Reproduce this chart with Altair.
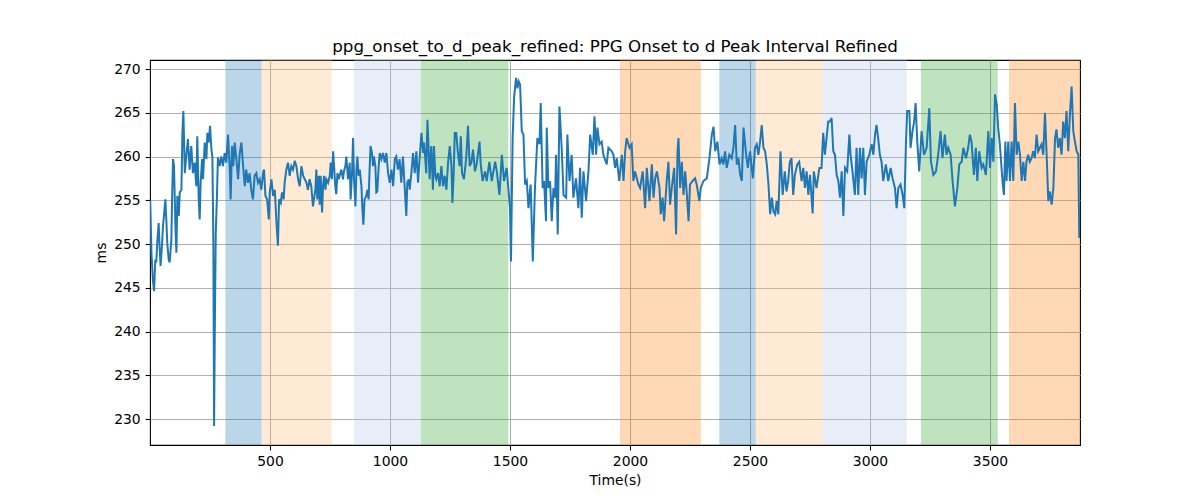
import altair as alt
import pandas as pd

# (time in s, interval in ms), in four stretches
seg_a = [
    (1, 255.0), (6, 249.0), (12, 245.9), (17, 244.6), (22, 248.2), (26, 247.9), (31, 250.5),
    (36, 252.4), (40, 249.8), (44, 247.5), (50, 249.8), (54, 252.0), (58, 253.2), (64, 255.1),
    (68, 252.8), (72, 250.1), (78, 248.2), (82, 247.9), (89, 250.5), (92, 255.1), (96, 259.7),
    (100, 258.9), (106, 252.0), (110, 249.0), (114, 255.5), (120, 253.2), (124, 255.9),
    (131, 256.2), (135, 262.7), (139, 265.2), (145, 258.1), (151, 260.0), (158, 262.0),
    (165, 258.5), (172, 261.2), (179, 258.1), (186, 259.3), (193, 256.6), (197, 262.3),
    (203, 255.1), (207, 252.8), (211, 257.0), (217, 259.7), (221, 257.4), (228, 261.6),
    (235, 259.7), (239, 262.7), (245, 261.6), (250, 263.5), (256, 260.8), (260, 260.0),
    (264, 250.0), (267, 229.2), (270, 240.0), (274, 251.3), (279, 255.5), (283, 259.9),
    (290, 258.9), (297, 260.0), (304, 258.9), (311, 260.4), (318, 259.3), (325, 262.5),
    (332, 258.9), (336, 255.1), (342, 261.2), (347, 258.9), (353, 261.6), (360, 259.7),
    (367, 257.4), (374, 260.4), (381, 261.6), (388, 258.9), (395, 256.6), (401, 258.5),
    (408, 257.0), (415, 258.1), (422, 256.2), (429, 255.1), (436, 257.8), (443, 258.1),
    (450, 257.0), (457, 257.4), (464, 256.2), (471, 258.1), (475, 258.5), (481, 255.5),
    (488, 255.1), (495, 252.8), (499, 255.9), (506, 257.4), (513, 255.5), (520, 256.2),
    (527, 252.4), (533, 249.8), (538, 255.1), (545, 254.7), (550, 255.9), (557, 255.1),
    (561, 257.0), (568, 258.5), (575, 259.3), (582, 257.8), (589, 258.9), (596, 258.5),
    (603, 259.5), (610, 258.9), (617, 257.4), (624, 256.6), (631, 258.9), (638, 257.8),
    (645, 257.4), (652, 257.0), (658, 256.2), (665, 257.4), (672, 256.6), (679, 254.3),
]
seg_b = [
    (689, 256.2), (693, 258.5), (697, 255.1), (703, 257.8), (707, 254.5), (711, 257.8),
    (717, 253.6), (721, 256.6), (725, 257.8), (731, 256.2), (735, 257.4), (742, 257.0),
    (749, 257.8), (753, 259.3), (758, 257.4), (763, 260.6), (767, 258.9), (772, 256.6),
    (776, 255.7), (781, 258.1), (786, 257.4), (797, 258.5), (804, 257.4), (808, 258.3),
    (814, 258.9), (818, 260.0), (825, 257.4), (832, 259.3), (836, 255.1), (842, 258.3),
    (846, 262.1), (850, 257.4), (856, 254.3), (860, 258.5), (864, 260.0), (869, 257.8),
    (874, 258.5), (881, 256.6), (885, 254.0), (889, 252.2), (894, 255.1), (901, 255.5),
    (906, 256.2), (911, 255.1), (915, 258.5), (919, 261.2), (925, 260.4), (929, 258.9),
    (933, 260.0), (939, 258.9), (943, 255.9), (947, 256.0), (953, 258.9), (957, 260.4),
    (964, 259.7), (971, 260.4), (978, 259.3), (985, 260.4), (992, 258.1), (999, 257.0),
    (1006, 258.5), (1013, 256.6), (1020, 259.7), (1026, 260.0), (1033, 258.5), (1040, 259.7),
    (1047, 257.0), (1054, 260.0), (1061, 256.6), (1068, 253.2), (1072, 257.0), (1078, 257.4),
    (1082, 256.2), (1089, 258.1), (1096, 260.4), (1103, 258.1), (1110, 260.6), (1117, 257.0),
    (1124, 260.0), (1131, 262.7), (1138, 260.4), (1142, 261.6), (1147, 259.7), (1151, 258.1),
    (1156, 264.2), (1161, 260.8), (1165, 257.4), (1172, 261.2), (1179, 256.2), (1183, 261.2),
    (1189, 257.8), (1193, 257.4), (1200, 258.1), (1207, 256.6), (1214, 258.9), (1221, 256.6),
    (1228, 257.8), (1235, 256.2), (1242, 259.3), (1249, 261.2), (1256, 258.9), (1260, 254.7),
    (1265, 257.8), (1270, 262.7), (1276, 262.7), (1283, 260.4), (1290, 258.9), (1295, 262.3),
    (1300, 258.1), (1308, 257.4), (1314, 258.9), (1318, 260.0), (1325, 263.5), (1332, 258.9),
    (1339, 259.3), (1346, 260.8),
]
seg_c = [
    (1354, 258.3), (1361, 259.1), (1373, 261.7), (1378, 259.1), (1386, 257.2), (1396, 258.3),
    (1403, 257.2), (1414, 259.4), (1424, 257.2), (1431, 258.3), (1438, 259.4), (1445, 258.3),
    (1456, 255.6), (1466, 260.2), (1475, 257.2), (1486, 258.7), (1493, 256.4), (1500, 254.1),
    (1504, 248.0), (1511, 262.1), (1517, 266.7), (1525, 269.0), (1531, 267.8), (1536, 268.6),
    (1542, 268.2), (1549, 262.9), (1556, 262.5), (1563, 256.8), (1570, 257.2), (1577, 254.1),
    (1586, 256.8), (1595, 248.0), (1604, 256.4), (1614, 262.1), (1623, 261.4), (1628, 266.1),
    (1636, 256.4), (1642, 257.2), (1650, 252.6), (1653, 263.3), (1660, 256.4), (1667, 257.2),
    (1674, 252.6), (1681, 256.4), (1688, 255.3), (1692, 260.2), (1699, 251.1), (1706, 265.7),
    (1716, 260.6), (1723, 255.6), (1734, 255.3), (1739, 262.5), (1748, 257.2), (1757, 260.2),
    (1764, 255.3), (1775, 257.5), (1785, 254.1), (1792, 258.7), (1799, 253.0), (1806, 258.3),
    (1817, 254.9), (1827, 258.3), (1834, 262.5), (1845, 260.2), (1852, 264.6), (1859, 260.2),
    (1864, 263.3), (1873, 261.4), (1882, 261.7), (1889, 260.2), (1903, 259.1), (1910, 261.0),
    (1924, 260.6), (1931, 260.2), (1938, 258.7), (1945, 259.8), (1955, 257.2), (1966, 260.2),
    (1973, 257.2), (1980, 260.6), (1986, 262.1), (1998, 261.0), (2007, 261.4), (2014, 257.2),
    (2021, 258.3), (2035, 256.8), (2042, 256.4), (2053, 258.3), (2063, 254.1), (2070, 258.7),
    (2081, 254.9), (2091, 259.1), (2098, 255.3), (2105, 257.5), (2112, 258.3), (2123, 256.4),
    (2128, 253.4), (2136, 255.3), (2142, 252.6), (2153, 257.2), (2160, 259.4), (2167, 254.5),
    (2174, 256.4), (2184, 258.7), (2192, 251.1), (2198, 260.6), (2202, 262.1), (2209, 256.4),
    (2216, 259.4), (2223, 255.6), (2230, 258.3), (2237, 255.6), (2244, 252.6), (2250, 256.8),
    (2261, 257.2), (2271, 257.5), (2278, 256.8), (2289, 254.9), (2295, 256.4), (2306, 257.2),
    (2320, 257.5), (2331, 259.8), (2341, 262.5), (2348, 263.4), (2355, 260.6), (2364, 261.7),
    (2373, 259.1), (2382, 259.8), (2389, 259.1), (2396, 260.6), (2403, 258.7), (2414, 260.2),
    (2424, 259.8), (2431, 261.0), (2438, 263.6), (2445, 259.1), (2452, 259.8), (2459, 257.9),
    (2466, 257.2), (2473, 263.3), (2484, 260.2), (2491, 258.7), (2500, 260.6), (2512, 257.5),
    (2521, 261.0), (2528, 261.4), (2535, 260.2), (2542, 261.7), (2549, 263.6), (2556, 261.0),
    (2563, 260.6), (2570, 259.1), (2577, 256.8), (2584, 253.4), (2591, 255.3), (2598, 253.7),
    (2605, 253.4), (2611, 254.9), (2618, 253.4),
]
seg_d = [
    (2627, 260.6), (2636, 255.6), (2645, 258.3), (2652, 256.0), (2659, 257.2), (2666, 259.4),
    (2673, 259.8), (2680, 255.6), (2687, 257.9), (2697, 259.1), (2705, 259.4), (2715, 257.2),
    (2722, 258.7), (2729, 256.4), (2736, 258.3), (2743, 255.6), (2750, 257.9), (2761, 253.5),
    (2766, 258.3), (2777, 256.4), (2789, 258.7), (2798, 258.7), (2805, 262.7), (2812, 260.2),
    (2819, 262.1), (2826, 264.0), (2833, 264.0), (2840, 264.4), (2847, 260.6), (2854, 260.2),
    (2861, 257.9), (2868, 257.2), (2875, 255.3), (2882, 258.3), (2889, 253.2), (2896, 258.7),
    (2905, 258.3), (2914, 262.5), (2919, 260.2), (2927, 258.3), (2937, 255.6), (2944, 261.0),
    (2951, 255.6), (2958, 261.0), (2965, 257.5), (2972, 261.0), (2979, 255.6), (2986, 259.4),
    (2997, 260.2), (3007, 261.4), (3014, 260.2), (3021, 262.5), (3027, 263.6), (3034, 262.1),
    (3041, 260.2), (3048, 259.4), (3055, 257.2), (3066, 259.1), (3076, 257.2), (3086, 258.7),
    (3094, 257.5), (3104, 256.4), (3111, 254.1), (3118, 256.4), (3127, 256.8), (3136, 255.6),
    (3143, 254.1), (3150, 261.7), (3155, 265.2), (3164, 265.2), (3169, 261.0), (3177, 262.9),
    (3184, 264.0), (3190, 266.1), (3197, 261.7), (3205, 258.3), (3215, 262.9), (3225, 260.2),
    (3236, 261.0), (3247, 265.5), (3254, 259.4), (3264, 257.9), (3275, 258.3), (3284, 260.2),
    (3294, 262.9), (3302, 259.8), (3312, 262.5), (3319, 260.2), (3326, 261.0), (3336, 260.2),
    (3344, 257.2), (3354, 254.3), (3364, 256.4), (3372, 259.1), (3382, 259.4), (3389, 261.0),
    (3400, 259.8), (3409, 261.0), (3416, 262.5), (3423, 261.7), (3433, 257.9), (3441, 261.0),
    (3447, 257.2), (3455, 260.6), (3465, 258.7), (3472, 259.1), (3483, 257.9), (3493, 262.9),
    (3500, 258.7), (3507, 262.1), (3514, 259.4), (3521, 267.1), (3528, 265.9), (3534, 263.3),
    (3541, 261.4), (3552, 257.2), (3558, 255.6), (3564, 261.7), (3569, 257.2), (3576, 261.7),
    (3583, 257.2), (3590, 261.7), (3597, 257.2), (3604, 266.1), (3611, 260.2), (3618, 261.7),
    (3625, 260.2), (3632, 257.2), (3639, 259.4), (3646, 257.2), (3652, 259.4), (3659, 260.2),
    (3666, 259.4), (3673, 259.8), (3680, 260.6), (3687, 259.8), (3694, 262.5), (3701, 260.6),
    (3708, 261.0), (3715, 261.4), (3722, 260.2), (3729, 265.0), (3736, 260.2), (3743, 254.9),
    (3750, 256.0), (3757, 254.5), (3764, 256.4), (3771, 262.1), (3777, 263.1), (3784, 261.0),
    (3791, 262.1), (3798, 260.2), (3805, 264.0), (3812, 262.1), (3819, 265.2), (3826, 260.6),
    (3833, 264.8), (3840, 268.0), (3847, 262.9), (3854, 261.7), (3861, 260.6), (3868, 260.2),
    (3872, 250.7),
]

# shaded phases
band_start = [314, 465, 850, 1129, 1958, 2372, 2524, 2801, 3212, 3579]
band_end = [465, 757, 1129, 1493, 2295, 2524, 2801, 3153, 3532, 3875]
band_color = ["#1f77b4", "#ffbb78", "#aec7e8", "#2ca02c", "#ff7f0e",
              "#1f77b4", "#ffbb78", "#aec7e8", "#2ca02c", "#ff7f0e"]

x_ticks = [500, 1000, 1500, 2000, 2500, 3000, 3500]
y_ticks = [230, 235, 240, 245, 250, 255, 260, 265, 270]

FONT = "DejaVu Sans"
W, H = 930, 385

series = pd.DataFrame(seg_a + seg_b + seg_c + seg_d, columns=["t", "ms"])
bands = pd.DataFrame({"start": band_start, "end": band_end, "color": band_color})

x_scale = alt.Scale(domain=[0, 3875], nice=False, zero=False)
y_scale = alt.Scale(domain=[227.03, 271.03], nice=False, zero=False)

shade = (
    alt.Chart(bands)
    .mark_rect(opacity=0.3)
    .encode(
        x=alt.X("start:Q", scale=x_scale),
        x2="end:Q",
        y=alt.value(0),
        y2=alt.value(H),
        color=alt.Color("color:N", scale=None),
    )
)

line = (
    alt.Chart(series)
    .mark_line(color="#1f77b4", strokeWidth=2, clip=True)
    .encode(
        x=alt.X("t:Q", scale=x_scale, title="Time(s)",
                axis=alt.Axis(values=x_ticks, format="d", grid=True)),
        y=alt.Y("ms:Q", scale=y_scale, title="ms",
                axis=alt.Axis(values=y_ticks, format="d", grid=True)),
    )
)

chart = (
    alt.layer(shade, line)
    .properties(
        width=W,
        height=H,
        title=alt.TitleParams(
            "ppg_onset_to_d_peak_refined: PPG Onset to d Peak Interval Refined",
            font=FONT, fontSize=16.7, fontWeight="normal", color="black",
            anchor="middle", baseline="bottom", offset=-13,
        ),
        autosize=alt.AutoSizeParams(type="none"),
        padding={"left": 142, "top": 52, "right": 100, "bottom": 45},
    )
    .configure_view(stroke="black", strokeWidth=1.1)
    .configure_axis(
        domain=False,
        labelFont=FONT, labelFontSize=13.9, labelColor="black",
        titleFont=FONT, titleFontSize=13.9, titleColor="black", titleFontWeight="normal",
        tickColor="black", tickWidth=1.1, tickSize=4.9, labelPadding=4.9,
        gridColor="#b0b0b0", gridWidth=1.1, gridOpacity=1,
        titlePadding=5,
    )
)

chart.save("out.html", embed_options={"renderer": "svg", "actions": False})
